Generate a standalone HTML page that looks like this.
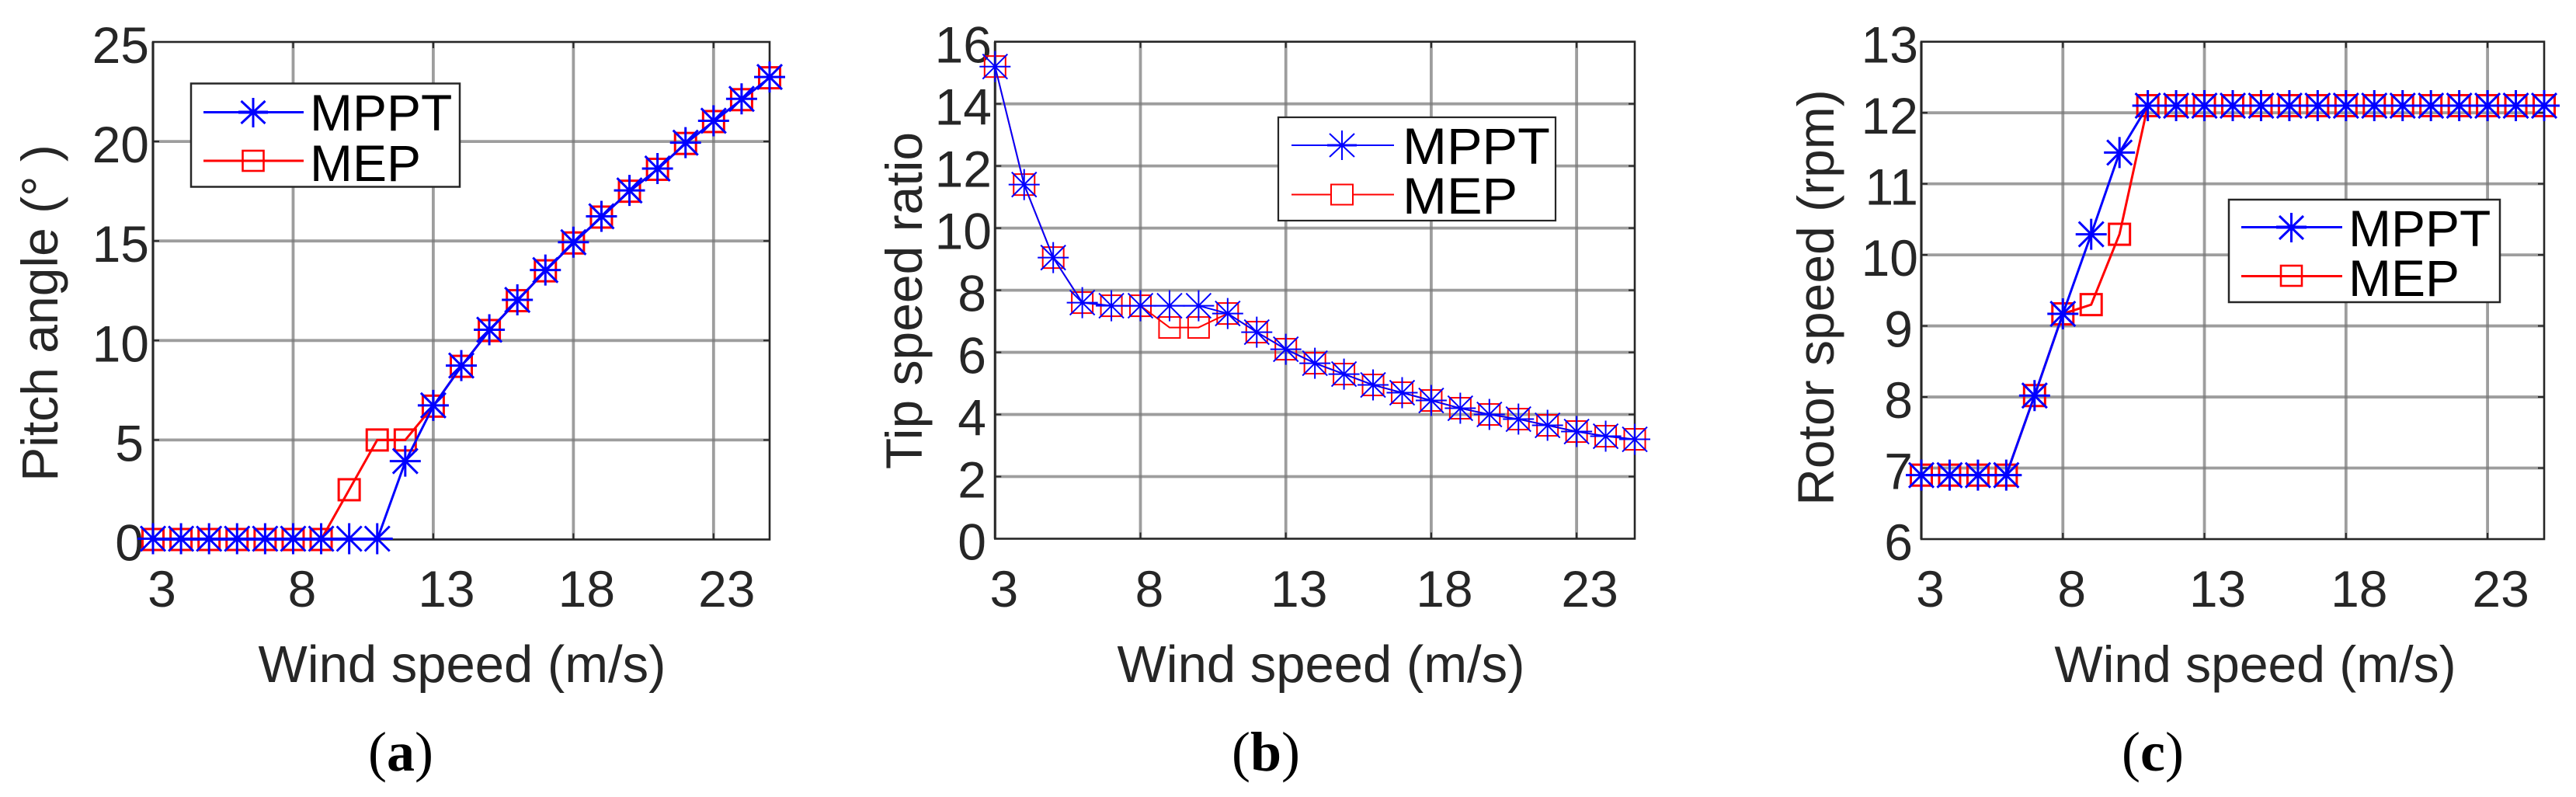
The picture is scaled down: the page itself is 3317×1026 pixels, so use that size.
<!DOCTYPE html>
<html lang="en">
<head>
<meta charset="utf-8">
<title>Pitch angle, tip speed ratio and rotor speed versus wind speed</title>
<style>
html,body{margin:0;padding:0;background:#fff;}
svg{display:block;}
text{font-family:"Liberation Sans",Arial,sans-serif;}
.lab{font-size:66px;fill:#262626;}
.xt{font-size:67px;fill:#262626;}
.leg{font-size:66px;fill:#000;}
.cap{font-family:"Liberation Serif","Times New Roman",serif;font-size:72px;fill:#000;}
</style>
</head>
<body>
<svg xmlns="http://www.w3.org/2000/svg" width="3317" height="1026" viewBox="0 0 3317 1026">
  <rect x="0" y="0" width="3317" height="1026" fill="#fff"/>

  <g id="plot-a"></g>
  <g id="plot-b"></g>
  <g id="plot-c"></g>

  <!-- axis titles -->
  <text class="lab" transform="translate(74,403) rotate(-90)" text-anchor="middle" xml:space="preserve">Pitch angle (° )</text>
  <text class="lab" transform="translate(1187,387) rotate(-90)" text-anchor="middle">Tip speed ratio</text>
  <text class="lab" transform="translate(2361,383) rotate(-90)" text-anchor="middle">Rotor speed (rpm)</text>
  <text class="xt" x="595" y="878" text-anchor="middle">Wind speed (m/s)</text>
  <text class="xt" x="1701" y="878" text-anchor="middle">Wind speed (m/s)</text>
  <text class="lab" x="2904" y="878" text-anchor="middle">Wind speed (m/s)</text>

  <!-- legend a -->
  <g>
    <rect x="246" y="107.5" width="346" height="133" fill="#fff" stroke="#262626" stroke-width="2.5"/>
    <g stroke="#0000ff" stroke-width="3">
      <line x1="262" y1="144.5" x2="391" y2="144.5"/>
      <line x1="307" y1="144.5" x2="345" y2="144.5" stroke-width="4"/>
      <line x1="326" y1="126" x2="326" y2="164"/>
      <line x1="310.5" y1="130" x2="341.5" y2="159"/>
      <line x1="310.5" y1="159" x2="341.5" y2="130"/>
    </g>
    <g stroke="#ff0000" stroke-width="3" fill="none">
      <line x1="262" y1="207" x2="391" y2="207"/>
      <rect x="312.5" y="194" width="27" height="26" stroke-width="2.6"/>
    </g>
    <text class="leg" x="399" y="168">MPPT</text>
    <text class="leg" x="399" y="233">MEP</text>
  </g>

  <!-- legend b -->
  <g>
    <rect x="1646" y="151" width="357" height="133" fill="#fff" stroke="#262626" stroke-width="2.2"/>
    <g stroke="#0000ff" stroke-width="2">
      <line x1="1663" y1="187" x2="1795" y2="187"/>
      <line x1="1709" y1="187" x2="1747" y2="187" stroke-width="3"/>
      <line x1="1728" y1="168" x2="1728" y2="206"/>
      <line x1="1712" y1="172" x2="1744" y2="202"/>
      <line x1="1712" y1="202" x2="1744" y2="172"/>
    </g>
    <g stroke="#ff0000" stroke-width="2" fill="none">
      <line x1="1663" y1="250.5" x2="1795" y2="250.5"/>
      <rect x="1714" y="237.5" width="28" height="26" fill="#fff"/>
    </g>
    <text class="leg" transform="translate(1806,211) scale(1.036,1)">MPPT</text>
    <text class="leg" transform="translate(1806,275) scale(1.036,1)">MEP</text>
  </g>

  <!-- legend c -->
  <g>
    <rect x="2870" y="257" width="349" height="132" fill="#fff" stroke="#262626" stroke-width="2.5"/>
    <g stroke="#0000ff" stroke-width="3">
      <line x1="2886" y1="292.5" x2="3016" y2="292.5"/>
      <line x1="2931" y1="292.5" x2="2970" y2="292.5" stroke-width="4"/>
      <line x1="2950.5" y1="274" x2="2950.5" y2="312"/>
      <line x1="2935" y1="278" x2="2966" y2="308"/>
      <line x1="2935" y1="308" x2="2966" y2="278"/>
    </g>
    <g stroke="#ff0000" stroke-width="3" fill="none">
      <line x1="2886" y1="355.5" x2="3016" y2="355.5"/>
      <rect x="2937" y="342" width="27" height="26" stroke-width="2.6"/>
    </g>
    <text class="leg" x="3024" y="317">MPPT</text>
    <text class="leg" x="3024" y="381">MEP</text>
  </g>

  <!-- panel captions -->
  <text class="cap" x="516" y="992" text-anchor="middle">(<tspan font-weight="bold">a</tspan>)</text>
  <text class="cap" x="1630" y="992" text-anchor="middle">(<tspan font-weight="bold">b</tspan>)</text>
  <text class="cap" x="2772" y="992" text-anchor="middle">(<tspan font-weight="bold">c</tspan>)</text>
</svg>

<script>
// ---- chart data ----
var windSpeeds = [3,4,5,6,7,8,9,10,11,12,13,14,15,16,17,18,19,20,21,22,23,24,25];
var xTickValues = [3,8,13,18,23];
var xTickLabels = ['3','8','13','18','23'];

var pitchYTicks = [0,5,10,15,20,25];
var pitchYLabels = ['0','5','10','15','20','25'];
var pitchMppt = [0,0,0,0,0,0,0,0,0,3.9,6.7,8.7,10.5,12,13.5,14.9,16.2,17.5,18.6,19.9,21,22.1,23.2];
var pitchMep  = [0,0,0,0,0,0,0,2.5,5,5,6.7,8.7,10.5,12,13.5,14.9,16.2,17.5,18.6,19.9,21,22.1,23.2];

var tsrYTicks = [0,2,4,6,8,10,12,14,16];
var tsrYLabels = ['0','2','4','6','8','10','12','14','16'];
var tsrMppt = [15.2,11.4,9.05,7.6,7.5,7.5,7.5,7.5,7.25,6.65,6.1,5.65,5.3,4.95,4.7,4.45,4.2,4,3.85,3.65,3.45,3.3,3.2];
var tsrMep  = [15.2,11.4,9.05,7.6,7.5,7.5,6.8,6.8,7.25,6.65,6.1,5.65,5.3,4.95,4.7,4.45,4.2,4,3.85,3.65,3.45,3.3,3.2];

var rotorYTicks = [6,7,8,9,10,11,12,13];
var rotorYLabels = ['6','7','8','9','10','11','12','13'];
var rotorMppt = [6.9,6.9,6.9,6.9,8.02,9.17,10.29,11.44,12.1,12.1,12.1,12.1,12.1,12.1,12.1,12.1,12.1,12.1,12.1,12.1,12.1,12.1,12.1];
var rotorMep  = [6.9,6.9,6.9,6.9,8.02,9.17,9.3,10.29,12.1,12.1,12.1,12.1,12.1,12.1,12.1,12.1,12.1,12.1,12.1,12.1,12.1,12.1,12.1];

var SVGNS = 'http://www.w3.org/2000/svg';

function make(parent, tag, attrs) {
  var el = document.createElementNS(SVGNS, tag);
  for (var k in attrs) { el.setAttribute(k, attrs[k]); }
  parent.appendChild(el);
  return el;
}

function drawPanel(panelId, box, yTicks, yLabels, mppt, mep, style) {
  var g = document.getElementById(panelId);
  var xMin = 3, xMax = 25;
  var yMin = yTicks[0], yMax = yTicks[yTicks.length - 1];
  function sx(v) { return box.left + (v - xMin) / (xMax - xMin) * (box.right - box.left); }
  function sy(v) { return box.bottom - (v - yMin) / (yMax - yMin) * (box.bottom - box.top); }

  // grid
  xTickValues.forEach(function (v) {
    var el = make(g, 'line', {x1: sx(v), x2: sx(v), y1: box.top, y2: box.bottom, stroke: '#777777', 'stroke-opacity': 0.72, 'stroke-width': 3.8});
    
    
  });
  yTicks.forEach(function (v) {
    if (v === yMin || v === yMax) { return; }
    var el = make(g, 'line', {x1: box.left, x2: box.right, y1: sy(v), y2: sy(v), stroke: '#777777', 'stroke-opacity': 0.72, 'stroke-width': 3.8});
    
    
  });

  // ticks
  xTickValues.forEach(function (v) {
    var t1 = make(g, 'line', {x1: sx(v), x2: sx(v), y1: box.bottom, y2: box.bottom - 8, stroke: '#262626', 'stroke-width': 2});
    
    
    var t2 = make(g, 'line', {x1: sx(v), x2: sx(v), y1: box.top, y2: box.top + 8, stroke: '#262626', 'stroke-width': 2});
    
    
  });
  yTicks.forEach(function (v) {
    var t1 = make(g, 'line', {x1: box.left, x2: box.left + 8, y1: sy(v), y2: sy(v), stroke: '#262626', 'stroke-width': 2});
    
    
    var t2 = make(g, 'line', {x1: box.right, x2: box.right - 8, y1: sy(v), y2: sy(v), stroke: '#262626', 'stroke-width': 2});
    
    
  });

  // axes box
  var frame = make(g, 'rect', {x: box.left, y: box.top, width: box.right - box.left, height: box.bottom - box.top, fill: 'none', stroke: '#262626', 'stroke-width': 2.6});
  
  

  // tick labels
  xTickValues.forEach(function (v, i) {
    var label = xTickLabels[i];
    var off = label.length === 1 ? 11.5 : 17;
    var t = make(g, 'text', {x: sx(v) + off, y: 781, 'text-anchor': 'middle', 'class': 'lab'});
    t.textContent = label;
    
    
  });
  yTicks.forEach(function (v, i) {
    var label = yLabels[i];
    var off = label.length === 1 ? -7 : 0;
    var t = make(g, 'text', {x: box.labelRight + off, y: sy(v) + 27, 'text-anchor': 'end', 'class': 'lab'});
    t.textContent = label;
    
    
  });

  // MEP series (red squares)
  var redPts = windSpeeds.map(function (w, i) { return sx(w) + ',' + sy(mep[i]); }).join(' ');
  var redLine = make(g, 'polyline', {points: redPts, fill: 'none', stroke: '#ff0000', 'stroke-width': style.line});
  
  
  windSpeeds.forEach(function (w, i) {
    var sq = make(g, 'rect', {x: sx(w) - 13.5, y: sy(mep[i]) - 13.5, width: 27, height: 27, fill: 'none', stroke: '#ff0000', 'stroke-width': style.marker});
    
    
  });

  // MPPT series (blue asterisks)
  var bluePts = windSpeeds.map(function (w, i) { return sx(w) + ',' + sy(mppt[i]); }).join(' ');
  var blueLine = make(g, 'polyline', {points: bluePts, fill: 'none', stroke: '#0000ff', 'stroke-width': style.line});
  
  
  windSpeeds.forEach(function (w, i) {
    var cx = sx(w), cy = sy(mppt[i]) - style.starShift;
    var d = 'M' + (cx - 20) + ' ' + cy + 'H' + (cx + 20) +
            'M' + cx + ' ' + (cy - 20) + 'V' + (cy + 20) +
            'M' + (cx - 16) + ' ' + (cy - 16) + 'L' + (cx + 16) + ' ' + (cy + 16) +
            'M' + (cx - 16) + ' ' + (cy + 16) + 'L' + (cx + 16) + ' ' + (cy - 16);
    var star = make(g, 'path', {d: d, fill: 'none', stroke: '#0000ff', 'stroke-width': style.marker});
    
    
  });
}

drawPanel('plot-a', {left: 197, right: 991, top: 54, bottom: 694.5, labelRight: 192},
  pitchYTicks, pitchYLabels, pitchMppt, pitchMep, {line: 3, marker: 3, starShift: 1});
drawPanel('plot-b', {left: 1281.3, right: 2105, top: 53.7, bottom: 693.5, labelRight: 1277},
  tsrYTicks, tsrYLabels, tsrMppt, tsrMep, {line: 2, marker: 2, starShift: 0});
drawPanel('plot-c', {left: 2474, right: 3276, top: 53.7, bottom: 694, labelRight: 2470},
  rotorYTicks, rotorYLabels, rotorMppt, rotorMep, {line: 3, marker: 3, starShift: 0});
</script>
</body>
</html>
